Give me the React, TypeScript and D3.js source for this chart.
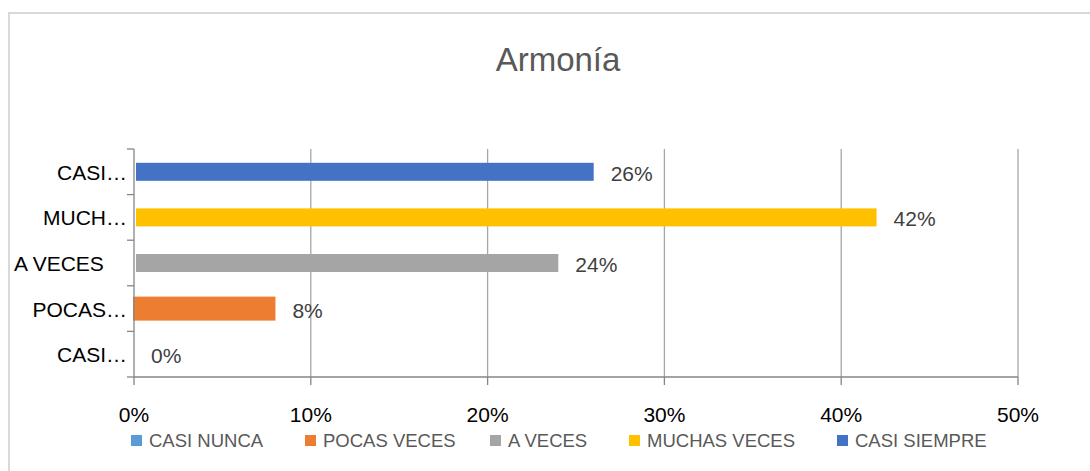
import React from 'react';
import * as d3 from 'd3';

const width = 1090;
const height = 471;

// categories top to bottom as drawn
const categories = ['CASI SIEMPRE', 'MUCHAS VECES', 'A VECES', 'POCAS VECES', 'CASI NUNCA'];
const shortLabels = ['CASI…', 'MUCH…', 'A VECES', 'POCAS…', 'CASI…'];
const values = [0.26, 0.42, 0.24, 0.08, 0];
const colors = ['#4472c4', '#ffc000', '#a5a5a5', '#ed7d31', '#5b9bd5'];
const xTicks = [0, 0.1, 0.2, 0.3, 0.4, 0.5];

// legend order (bottom to top in the chart)
const legendNames = ['CASI NUNCA', 'POCAS VECES', 'A VECES', 'MUCHAS VECES', 'CASI SIEMPRE'];
const legendColors = ['#5b9bd5', '#ed7d31', '#a5a5a5', '#ffc000', '#4472c4'];
const legendX = [131, 305, 490, 629, 837];

const margin = { left: 134, right: 72, top: 149, bottom: 94 };

const font = "'Liberation Sans', 'DejaVu Sans', sans-serif";

const App = () => {
  const x = d3
    .scaleLinear()
    .domain([0, 0.5])
    .range([margin.left, width - margin.right]);

  const y = d3
    .scaleBand()
    .domain(categories)
    .range([margin.top, height - margin.bottom])
    .paddingInner(0)
    .paddingOuter(0);

  const fmt = d3.format('.0%');
  const barH = 24;
  const bandEdges = d3.range(categories.length + 1).map(i => margin.top + i * y.step());

  return (
    <svg width={width} height={height} style={{ position: 'absolute', left: 0, top: 0 }}>
      <rect x={0} y={0} width={width} height={height} fill="#fff" />
      <rect x={9} y={13} width={width + 10} height={height} fill="#fff" stroke="#d9d9d9" strokeWidth={2} />

      <text x={558} y={71} textAnchor="middle" fontFamily={font} fontSize={33} fill="#595959">
        Armonía
      </text>

      {/* gridlines */}
      {xTicks.slice(1).map(t => (
        <line key={t} x1={x(t)} x2={x(t)} y1={margin.top} y2={height - margin.bottom} stroke="#a6a6a6" strokeWidth={1.3} />
      ))}

      {/* bars */}
      {categories.map((c, i) => {
        const cy = (y(c) as number) + y.bandwidth() / 2;
        const inset = i === 3 ? 0 : 3;
        const w = x(values[i]) - x(0);
        return (
          <g key={c}>
            {w > 0 && (
              <rect
                x={x(0) + inset - 1}
                y={cy - barH / 2 + inset}
                width={Math.max(0, w - inset + 1)}
                height={barH - 2 * inset}
                fill={colors[i]}
              />
            )}
            <text x={x(values[i]) + 17} y={cy + 9} fontFamily={font} fontSize={21} fill="#404040">
              {fmt(values[i])}
            </text>
            <text
              x={i === 2 ? 14 : 127}
              y={cy + 8}
              textAnchor={i === 2 ? 'start' : 'end'}
              fontFamily={font}
              fontSize={21}
              fill="#000"
            >
              {shortLabels[i]}
            </text>
          </g>
        );
      })}

      {/* y axis */}
      <line x1={x(0)} x2={x(0)} y1={margin.top} y2={height - margin.bottom} stroke="#868686" strokeWidth={1.3} />
      {bandEdges.map(e => (
        <line key={e} x1={x(0) - 7} x2={x(0)} y1={e} y2={e} stroke="#868686" strokeWidth={1.3} />
      ))}

      {/* x axis */}
      <line x1={x(0)} x2={x(0.5)} y1={height - margin.bottom} y2={height - margin.bottom} stroke="#868686" strokeWidth={1.3} />
      {xTicks.map(t => (
        <g key={t}>
          <line x1={x(t)} x2={x(t)} y1={height - margin.bottom} y2={height - margin.bottom + 8} stroke="#868686" strokeWidth={1.3} />
          <text x={x(t)} y={422} textAnchor="middle" fontFamily={font} fontSize={21} fill="#000">
            {fmt(t)}
          </text>
        </g>
      ))}

      {/* legend */}
      {legendNames.map((n, i) => (
        <g key={n}>
          <rect x={legendX[i]} y={435} width={11} height={11} fill={legendColors[i]} />
          <text x={legendX[i] + 18} y={447} fontFamily={font} fontSize={18.5} fill="#595959">
            {n}
          </text>
        </g>
      ))}
    </svg>
  );
};

export default App;
